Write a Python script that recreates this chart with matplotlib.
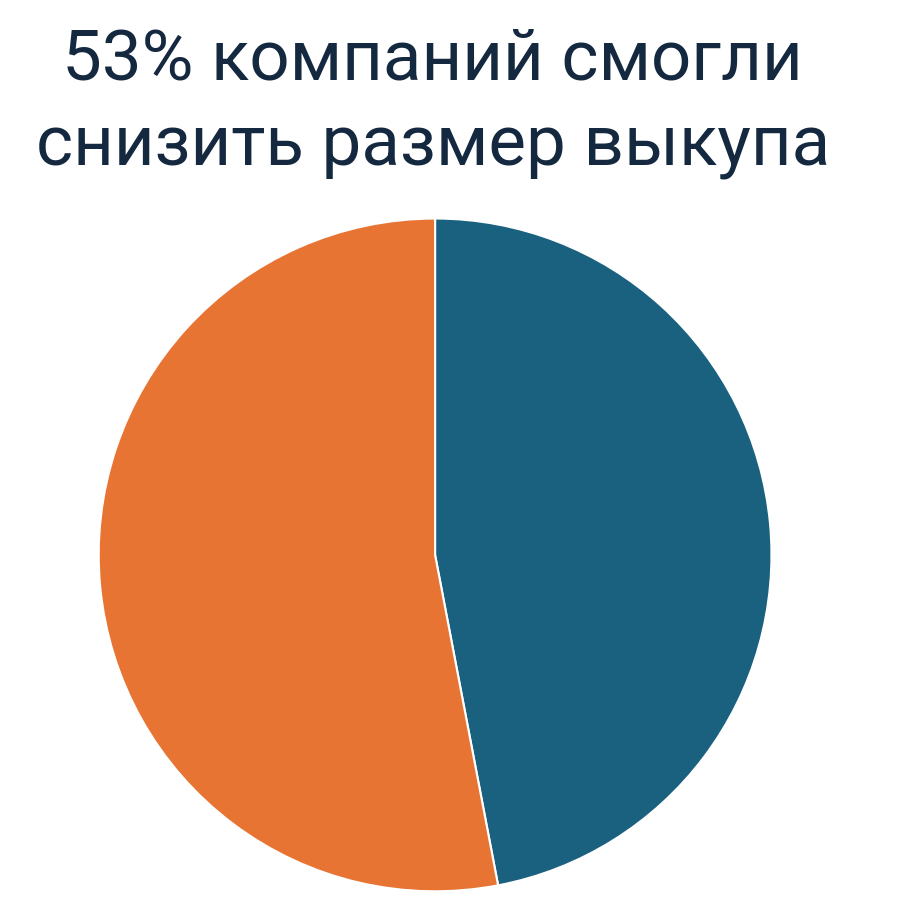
import matplotlib.pyplot as plt

labels = ["Смогли снизить", "Не смогли"]
shares = [47, 53]
colors = ["#1a607f", "#e87434"]
title_lines = ["53% компаний смогли", "снизить размер выкупа"]

fig = plt.figure(figsize=(8.98, 9.10), dpi=100)
fig.patch.set_facecolor("white")

ax = fig.add_axes([0.108, 0.0187, 0.753, 0.743])
ax.pie(shares, colors=colors, startangle=90, counterclock=False,
       wedgeprops=dict(edgecolor="white", linewidth=1.5))
ax.set_xlim(-1.005, 1.005)
ax.set_ylim(-1.005, 1.005)
ax.set_aspect("equal")

fig.text(0.482, 1 - 80 / 910, title_lines[0], ha="center", va="baseline",
         fontsize=51, color="#14283f", family="Roboto")
fig.text(0.482, 1 - 165 / 910, title_lines[1], ha="center", va="baseline",
         fontsize=51, color="#14283f", family="Roboto")

plt.savefig("out.png", dpi=100)
